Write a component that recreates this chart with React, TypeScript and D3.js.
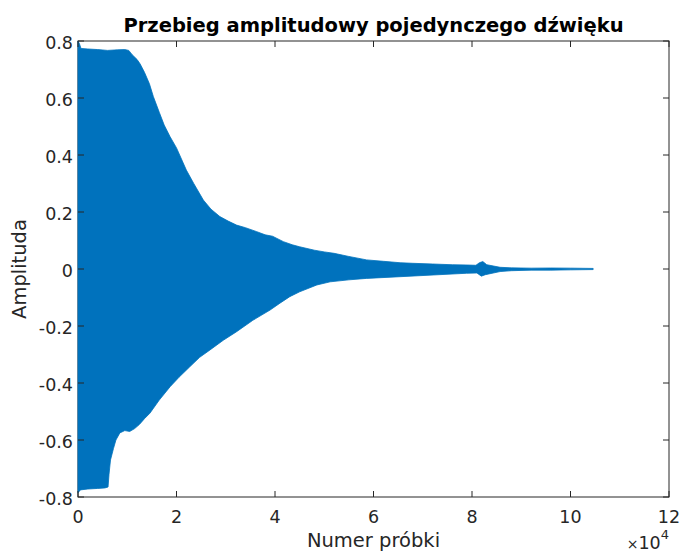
import React from "react";
import * as d3 from "d3";

// Envelope of the waveform: [sample index, amplitude]
const upperSamples = [0, 300, 600, 2000, 4000, 6000, 8000, 9500, 10300, 11000, 12000, 12600, 13500, 14500, 15300, 16500, 17500, 18700, 20000, 22000, 23500, 25450, 27000, 28800, 30500, 32200, 34000, 36300, 38000, 39500, 41700, 43500, 45000, 48000, 50000, 52000, 55000, 58600, 62000, 65400, 68000, 72000, 76000, 79000, 80800, 81500, 82200, 83000, 85700, 88000, 92000, 96000, 100000, 104600];
const upperValues = [0.8, 0.79, 0.774, 0.772, 0.77, 0.767, 0.769, 0.77, 0.767, 0.752, 0.735, 0.72, 0.69, 0.65, 0.605, 0.55, 0.505, 0.464, 0.425, 0.347, 0.3, 0.242, 0.21, 0.184, 0.168, 0.154, 0.145, 0.131, 0.12, 0.115, 0.096, 0.085, 0.078, 0.066, 0.06, 0.055, 0.044, 0.032, 0.027, 0.022, 0.02, 0.0175, 0.015, 0.014, 0.013, 0.022, 0.026, 0.015, 0.006, 0.004, 0.003, 0.0035, 0.003, 0.002];

const lowerSamples = [0, 500, 2000, 4000, 5500, 6100, 6300, 6600, 7200, 7700, 8500, 9500, 10500, 11500, 12500, 13500, 14600, 16500, 18700, 20500, 22700, 24700, 26800, 29500, 32200, 35500, 39000, 41000, 43000, 45000, 48500, 51200, 55000, 58600, 65400, 72100, 78900, 81000, 81900, 82700, 85700, 88000, 92000, 96000, 100000, 104600];
const lowerValues = [-0.785, -0.775, -0.772, -0.77, -0.768, -0.765, -0.72, -0.67, -0.63, -0.6, -0.575, -0.567, -0.57, -0.56, -0.545, -0.525, -0.506, -0.46, -0.413, -0.38, -0.343, -0.31, -0.284, -0.25, -0.22, -0.18, -0.144, -0.12, -0.097, -0.08, -0.056, -0.045, -0.038, -0.033, -0.027, -0.021, -0.015, -0.014, -0.025, -0.02, -0.009, -0.006, -0.004, -0.004, -0.003, -0.002];

const xTicks = [0, 2, 4, 6, 8, 10, 12]; // x 10^4
const yTicks = [-0.8, -0.6, -0.4, -0.2, 0, 0.2, 0.4, 0.6, 0.8];

const title = "Przebieg amplitudowy pojedynczego dźwięku";
const xLabel = "Numer próbki";
const yLabel = "Amplituda";

const W = 681;
const H = 553;
const left = 78;
const right = 669;
const top = 41;
const bottom = 497;
const axisColor = "#262626";
const dataColor = "#0072BD";
const font = "'DejaVu Sans', sans-serif";

export default function App() {
  const x = d3.scaleLinear().domain([0, 120000]).range([left, right]);
  const y = d3.scaleLinear().domain([-0.8, 0.8]).range([bottom, top]);

  const upper: [number, number][] = upperSamples.map((s, i) => [x(s), y(upperValues[i])]);
  const lower: [number, number][] = lowerSamples.map((s, i) => [x(s), y(lowerValues[i])]);
  const poly = upper.concat(lower.slice().reverse());
  const path = (d3.line()(poly) || "") + "Z";

  const tl = 6;
  const fmt = (v: number) => (Math.abs(v) < 1e-9 ? "0" : String(Math.round(v * 10) / 10));

  return (
    <svg
      width={W}
      height={H}
      style={{ position: "absolute", left: 0, top: 0, background: "#fff" }}
      fontFamily={font}
    >
      <rect x={0} y={0} width={W} height={H} fill="#fff" />
      {/* box */}
      <rect x={left} y={top} width={right - left} height={bottom - top} fill="#fff" stroke={axisColor} strokeWidth={1} />
      {/* data */}
      <path d={path} fill={dataColor} stroke={dataColor} strokeWidth={0.8} strokeLinejoin="round" />
      {/* x ticks */}
      {xTicks.map((t) => (
        <g key={"x" + t}>
          <line x1={x(t * 10000)} x2={x(t * 10000)} y1={bottom} y2={bottom - tl} stroke={axisColor} />
          <line x1={x(t * 10000)} x2={x(t * 10000)} y1={top} y2={top + tl} stroke={axisColor} />
          <text x={x(t * 10000)} y={523} textAnchor="middle" fontSize={17.5} fill={axisColor}>
            {t}
          </text>
        </g>
      ))}
      {/* y ticks */}
      {yTicks.map((t) => (
        <g key={"y" + t}>
          <line x1={left} x2={left + tl} y1={y(t)} y2={y(t)} stroke={axisColor} />
          <line x1={right} x2={right - tl} y1={y(t)} y2={y(t)} stroke={axisColor} />
          <text x={73} y={y(t) + 8} textAnchor="end" fontSize={17.5} fill={axisColor}>
            {fmt(t)}
          </text>
        </g>
      ))}
      {/* exponent */}
      <text x={right} y={549} textAnchor="end" fontSize={17.5} fill={axisColor}>
        <tspan fontSize={14}>×</tspan>
        <tspan>10</tspan>
        <tspan fontSize={13} dy={-10}>4</tspan>
      </text>
      {/* title */}
      <text x={(left + right) / 2} y={32} textAnchor="middle" fontSize={19.5} fontWeight="bold" fill="#000">
        {title}
      </text>
      {/* x label */}
      <text x={(left + right) / 2} y={547} textAnchor="middle" fontSize={19.5} fill={axisColor}>
        {xLabel}
      </text>
      {/* y label */}
      <text
        transform={`translate(26, ${(top + bottom) / 2}) rotate(-90)`}
        textAnchor="middle"
        fontSize={19.5}
        fill={axisColor}
      >
        {yLabel}
      </text>
    </svg>
  );
}
